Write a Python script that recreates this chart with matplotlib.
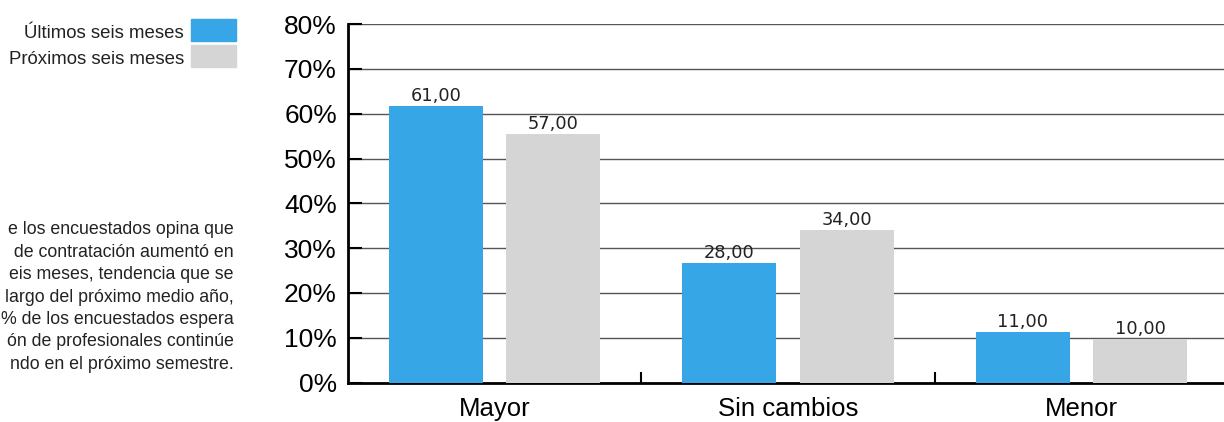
import matplotlib.pyplot as plt
import numpy as np

categorias = ["Mayor", "Sin cambios", "Menor"]
ultimos = [61.8, 26.7, 11.3]
proximos = [55.5, 34.0, 9.8]
etiquetas_ult = ["61,00", "28,00", "11,00"]
etiquetas_prox = ["57,00", "34,00", "10,00"]
series = ["Últimos seis meses", "Próximos seis meses"]
yticks = [0, 10, 20, 30, 40, 50, 60, 70, 80]
texto = ["e los encuestados opina que",
         " de contratación aumentó en",
         "eis meses, tendencia que se",
         "largo del próximo medio año,",
         "% de los encuestados espera",
         "ón de profesionales continúe",
         "ndo en el próximo semestre."]

azul = "#37A6E7"
gris = "#D5D5D5"

plt.rcParams['font.family'] = ['Liberation Sans', 'DejaVu Sans']

fig = plt.figure(figsize=(12.24, 4.22), dpi=100)
ax = fig.add_axes([348/1224, 39.5/422, 880/1224, 358.4/422])

x = np.arange(len(categorias))
ancho = 0.32
b1 = ax.bar(x - 0.2, ultimos, ancho, color=azul, zorder=3)
b2 = ax.bar(x + 0.2, proximos, ancho, color=gris, zorder=3)

for barras, etiquetas in [(b1, etiquetas_ult), (b2, etiquetas_prox)]:
    for rect, lab in zip(barras, etiquetas):
        ax.annotate(lab, (rect.get_x() + rect.get_width()/2, rect.get_height()),
                    xytext=(0, 0.5), textcoords="offset points", ha="center", va="bottom",
                    fontsize=12.8, family="DejaVu Sans", color="#222222")

ax.set_xlim(-0.5, 2.5)
ax.set_ylim(0, 80)
ax.set_yticks(yticks)
ax.set_yticklabels([f"{v}%" for v in yticks], fontsize=19)
ax.set_xticks(x)
ax.set_xticklabels(categorias, fontsize=18.5)
ax.tick_params(axis="x", length=0, pad=10.5)
ax.tick_params(axis="y", direction="in", length=10, width=1.5, pad=8)
ax.set_xticks([0.5, 1.5, 2.5], minor=True)
ax.tick_params(axis="x", which="minor", direction="in", length=8, width=1.5)
ax.yaxis.grid(True, color="#555555", linewidth=1, zorder=0)
ax.set_axisbelow(True)
for s in ["top", "right"]:
    ax.spines[s].set_visible(False)
ax.spines["left"].set_linewidth(2)
ax.spines["bottom"].set_linewidth(2)

# leyenda manual
fig.patches.append(plt.Rectangle((191/1224, 1 - 41/422), 45/1224, 22/422,
                                 transform=fig.transFigure, color=azul))
fig.patches.append(plt.Rectangle((191/1224, 1 - 67/422), 45/1224, 22/422,
                                 transform=fig.transFigure, color=gris))
fig.text(184/1224, 1 - 33/422, series[0], ha="right", va="center", fontsize=13.4,
         color="#222222")
fig.text(184/1224, 1 - 59/422, series[1], ha="right", va="center", fontsize=13.4,
         color="#222222")

for i, linea in enumerate(texto):
    fig.text(234/1224, 1 - (230 + i*22.4)/422, linea, ha="right", va="center",
             fontsize=12.8, color="#222222")

fig.savefig("out.png", dpi=100)
